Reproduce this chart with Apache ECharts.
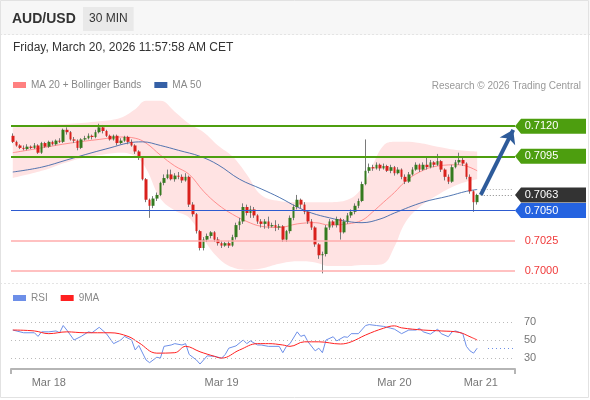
<!DOCTYPE html>
<html>
<head>
<meta charset="utf-8">
<title>AUD/USD 30 MIN</title>
<script src="https://cdn.jsdelivr.net/npm/echarts@6/dist/echarts.min.js"></script>
<style>
  html, body { margin: 0; padding: 0; background: #fff; }
  #chart { width: 590px; height: 400px; }
</style>
</head>
<body>
<div id="chart"></div>
<script>
// 30 min candles, Mar 17 19:00 -> Mar 20 11:30 CET
const opens = [
  0.7112,0.7107,0.7104,0.7102,0.7101,0.7103,0.7102,0.7104,0.7098,0.7106,
  0.7103,0.7107,0.7105,0.7108,0.7107,0.7117,0.7115,0.7109,0.7108,0.7102,
  0.7109,0.7110,0.7112,0.7111,0.7115,0.7119,0.7116,0.7112,0.7109,0.7112,
  0.7106,0.7108,0.7111,0.7107,0.7104,0.7099,0.7094,0.7076,0.7059,0.7054,
  0.7060,0.7063,0.7073,0.7077,0.7080,0.7076,0.7079,0.7078,0.7075,0.7078,
  0.7055,0.7047,0.7033,0.7019,0.7026,0.7029,0.7032,0.7026,0.7023,0.7021,
  0.7023,0.7021,0.7028,0.7038,0.7041,0.7053,0.7048,0.7051,0.7046,0.7041,
  0.7039,0.7041,0.7037,0.7038,0.7036,0.7037,0.7026,0.7033,0.7044,0.7053,
  0.7059,0.7055,0.7049,0.7041,0.7036,0.7022,0.7013,0.7014,0.7036,0.7041,
  0.7038,0.7043,0.7032,0.7041,0.7046,0.7049,0.7054,0.7058,0.7072,0.7083,
  0.7086,0.7085,0.7088,0.7085,0.7087,0.7083,0.7086,0.7081,0.7084,0.7078,
  0.7074,0.7080,0.7084,0.7088,0.7084,0.7088,0.7086,0.7090,0.7088,0.7091,
  0.7084,0.7078,0.7074,0.7086,0.7090,0.7092,0.7089,0.7078,0.7066,0.7057
];
const closes = [
  0.7107,0.7104,0.7102,0.7101,0.7103,0.7102,0.7104,0.7098,0.7106,0.7103,
  0.7107,0.7105,0.7108,0.7107,0.7117,0.7115,0.7109,0.7108,0.7102,0.7109,
  0.7110,0.7112,0.7111,0.7115,0.7119,0.7116,0.7112,0.7109,0.7112,0.7106,
  0.7108,0.7111,0.7107,0.7104,0.7099,0.7094,0.7076,0.7059,0.7054,0.7060,
  0.7063,0.7073,0.7077,0.7080,0.7076,0.7079,0.7078,0.7075,0.7078,0.7055,
  0.7047,0.7033,0.7019,0.7026,0.7029,0.7032,0.7026,0.7023,0.7021,0.7023,
  0.7021,0.7028,0.7038,0.7041,0.7053,0.7048,0.7051,0.7046,0.7041,0.7039,
  0.7041,0.7037,0.7038,0.7036,0.7037,0.7026,0.7033,0.7044,0.7053,0.7059,
  0.7055,0.7049,0.7041,0.7036,0.7022,0.7013,0.7014,0.7036,0.7041,0.7038,
  0.7043,0.7032,0.7041,0.7046,0.7049,0.7054,0.7058,0.7072,0.7083,0.7086,
  0.7085,0.7088,0.7085,0.7087,0.7083,0.7086,0.7081,0.7084,0.7078,0.7074,
  0.7080,0.7084,0.7088,0.7084,0.7088,0.7086,0.7090,0.7088,0.7091,0.7084,
  0.7078,0.7074,0.7086,0.7090,0.7092,0.7089,0.7078,0.7066,0.7057,0.7063
];
const lows = [
  0.7106,0.7103,0.7101,0.7100,0.7100,0.7101,0.7101,0.7097,0.7097,0.7102,
  0.7102,0.7104,0.7104,0.7106,0.7106,0.7113,0.7108,0.7106,0.7100,0.7101,
  0.7108,0.7109,0.7109,0.7110,0.7114,0.7114,0.7111,0.7108,0.7108,0.7104,
  0.7105,0.7107,0.7105,0.7103,0.7097,0.7092,0.7075,0.7057,0.7044,0.7052,
  0.7058,0.7062,0.7071,0.7076,0.7075,0.7074,0.7076,0.7073,0.7074,0.7053,
  0.7045,0.7031,0.7017,0.7017,0.7024,0.7027,0.7024,0.7021,0.7019,0.7020,
  0.7019,0.7020,0.7026,0.7034,0.7039,0.7046,0.7044,0.7044,0.7039,0.7036,
  0.7035,0.7035,0.7036,0.7033,0.7034,0.7024,0.7024,0.7031,0.7042,0.7051,
  0.7052,0.7047,0.7039,0.7034,0.7020,0.7010,0.6998,0.7012,0.7034,0.7036,
  0.7036,0.7026,0.7031,0.7039,0.7044,0.7047,0.7052,0.7057,0.7071,0.7081,
  0.7083,0.7084,0.7083,0.7084,0.7082,0.7081,0.7079,0.7080,0.7076,0.7072,
  0.7073,0.7079,0.7083,0.7082,0.7083,0.7084,0.7085,0.7086,0.7087,0.7082,
  0.7075,0.7072,0.7073,0.7085,0.7088,0.7087,0.7076,0.7064,0.7049,0.7055
];
const highs = [
  0.7114,0.7108,0.7105,0.7104,0.7105,0.7104,0.7106,0.7105,0.7107,0.7107,
  0.7108,0.7108,0.7109,0.7110,0.7118,0.7119,0.7116,0.7111,0.7109,0.7110,
  0.7112,0.7114,0.7113,0.7117,0.7122,0.7121,0.7117,0.7113,0.7113,0.7113,
  0.7110,0.7112,0.7112,0.7109,0.7105,0.7100,0.7095,0.7077,0.7060,0.7062,
  0.7065,0.7074,0.7080,0.7084,0.7084,0.7081,0.7082,0.7080,0.7081,0.7079,
  0.7057,0.7048,0.7034,0.7028,0.7031,0.7033,0.7033,0.7028,0.7025,0.7024,
  0.7025,0.7030,0.7040,0.7044,0.7056,0.7055,0.7054,0.7053,0.7047,0.7043,
  0.7043,0.7045,0.7040,0.7042,0.7039,0.7038,0.7034,0.7046,0.7055,0.7063,
  0.7060,0.7057,0.7050,0.7043,0.7037,0.7023,0.7016,0.7038,0.7043,0.7042,
  0.7045,0.7044,0.7043,0.7048,0.7051,0.7056,0.7060,0.7074,0.7109,0.7089,
  0.7088,0.7090,0.7089,0.7089,0.7088,0.7088,0.7087,0.7086,0.7085,0.7080,
  0.7082,0.7086,0.7090,0.7089,0.7090,0.7094,0.7092,0.7091,0.7097,0.7092,
  0.7085,0.7080,0.7088,0.7092,0.7098,0.7094,0.7090,0.7080,0.7067,0.7064
];

// day labels on the x axis: [slot index, text]
const dayLabels = [[10, 'Mar 18'], [58, 'Mar 19'], [106, 'Mar 20'], [130, 'Mar 21']];
const slotCount = 140;

// indicators, [slot index, value]
const bbUpper = [[0,0.7119],[8,0.7121],[16,0.7122],[24,0.7124],[30,0.7127],[34,0.7134],[37,0.7141],[41,0.7141],[45,0.7132],[49,0.7122],[53,0.7115],[57,0.7104],[61,0.7095],[65,0.7080],[69,0.7063],[74,0.7058],[79,0.7057],[84,0.7057],[88,0.7057],[93,0.7059],[97,0.7069],[100,0.7088],[103,0.7104],[106,0.7107],[109,0.7107],[113,0.7106],[118,0.7103],[124,0.7100],[129,0.7099]];
const bbLower = [[0,0.7077],[8,0.7083],[16,0.7091],[24,0.7096],[30,0.7098],[34,0.7095],[37,0.7085],[41,0.7060],[45,0.7050],[49,0.7044],[53,0.7026],[57,0.7011],[61,0.7003],[65,0.7001],[69,0.7002],[74,0.7006],[79,0.7008],[84,0.7007],[88,0.7004],[93,0.7004],[97,0.7005],[100,0.7005],[103,0.7006],[106,0.7020],[109,0.7040],[113,0.7053],[118,0.7063],[124,0.7072],[129,0.7076]];
const ma20 = [[0,0.7098],[8,0.7102],[16,0.7106],[24,0.7109],[30,0.7111],[34,0.7110],[37,0.7106],[41,0.7096],[45,0.7087],[49,0.7080],[53,0.7066],[57,0.7055],[61,0.7047],[65,0.7041],[69,0.7037],[74,0.7036],[79,0.7039],[84,0.7040],[88,0.7038],[93,0.7039],[97,0.7042],[100,0.7049],[103,0.7057],[106,0.7065],[109,0.7074],[113,0.7082],[118,0.7087],[124,0.7088],[129,0.7083]];
const ma50 = [[0,0.7082],[8,0.7086],[15,0.7092],[22,0.7098],[27,0.7102],[32,0.7106],[36,0.7107],[41,0.7104],[46,0.7100],[52,0.7095],[57,0.7088],[63,0.7076],[69,0.7068],[74,0.7061],[79,0.7053],[83,0.7048],[88,0.7044],[93,0.7041],[97,0.7040],[102,0.7043],[106,0.7048],[114,0.7057],[121,0.7062],[126,0.7066],[129,0.70675]];

const rsi = [[0,61],[3,58],[6,58],[7,54],[8,59],[10,59],[12,60],[13,58],[14,66],[15,61],[17,50],[19,54],[21,59],[22,58],[24,64],[26,57],[28,46],[30,50],[31,54],[33,50],[34,39],[35,44],[37,28],[38,25],[40,31],[41,30],[42,43],[44,44.5],[45,46],[47,44.5],[48,46],[49,34],[51,28],[52,23.5],[54,32.5],[56,32],[58,30],[59,34],[60,41],[62,43.5],[64,50],[65,46],[66,49],[68,44.5],[69,44.5],[71,43],[74,43],[75,36],[76,43],[77,46],[79,59],[80,54],[81,55.5],[82,48],[84,38],[85,41],[86,36],[87,50],[89,53.6],[90,49],[92,53.6],[93,53],[94,57],[96,57],[98,66],[99,67],[101,66],[103,65],[105,63],[106,62],[108,57],[110,61],[112,61],[113,63],[114,59],[116,56.5],[118,62],[119,57],[121,53.6],[122,59],[123,60],[125,57],[126,43],[127,38],[128,35.5],[129,41]];
const rsiMa = [[0,61],[6,60],[10,57],[15,59],[20,58],[27,58],[32,54],[35,47],[40,35.5],[45,36],[48,43],[52,37],[56,32],[58,30],[63,39],[68,46],[71,46],[75,44.5],[77,43],[81,48],[85,48],[91,45.6],[94,48],[98,55.5],[103,63],[106,65.6],[108,63.4],[114,61],[119,60],[124,58.4],[127,53.6],[129,50]];

// key levels
const resistances = [0.7120, 0.7095];
const pivot = 0.7050;
const supports = [0.7025, 0.7000];
const lastPrice = 0.7063;
const rsiLevels = [30, 50, 70];

const GREEN = '#4d9e0f';
const UP = '#357a1f';
const DOWN = '#d9201c';

const categories = Array.from({ length: slotCount }, (_, i) => String(i));
const catLabels = {};
dayLabels.forEach(([i, t]) => { catLabels[i] = t; });

const wickData = opens.map((o, i) => [o, closes[i], lows[i], highs[i]]);
const bodyData = opens.map((o, i) => [o, closes[i], Math.min(o, closes[i]), Math.max(o, closes[i])]);
const bandWidth = bbLower.map((p, i) => [p[0], bbUpper[i][1] - p[1]]);
const ma50Last = ma50[ma50.length - 1][1];
const rsiLast = rsi[rsi.length - 1][1];
const lastSlot = slotCount - 1;

function levelLine(v, color, width) {
  return { yAxis: v, lineStyle: { color: color, width: width, type: 'solid' } };
}
function tag(v, fill, textColor) {
  return { coord: [lastSlot, v], name: v.toFixed(4), itemStyle: { color: fill }, label: { color: textColor } };
}

const chart = echarts.init(document.getElementById('chart'));

chart.setOption({
  animation: false,
  textStyle: { fontFamily: 'Liberation Sans, Arial, sans-serif' },
  graphic: [
    { type: 'rect', shape: { x: 0, y: 0, width: 590, height: 35 }, style: { fill: '#f7f7f7' }, silent: true },
    { type: 'line', shape: { x1: 0, y1: 34.5, x2: 590, y2: 34.5 }, style: { stroke: '#e4e4e4', lineDash: [2, 2] }, silent: true },
    { type: 'line', shape: { x1: 0, y1: 283.5, x2: 590, y2: 283.5 }, style: { stroke: '#e4e4e4', lineDash: [2, 2] }, silent: true },
    { type: 'rect', shape: { x: 0.5, y: 0.5, width: 588, height: 397 }, style: { fill: null, stroke: '#e2e2e2' }, silent: true }
  ],
  title: [
    { text: 'AUD/USD', left: 12, top: 12, padding: 0, textStyle: { fontSize: 14, fontWeight: 'bold', color: '#333' } },
    { text: '30 MIN', left: 83, top: 7, padding: [6, 6], backgroundColor: '#e9e9e9', textStyle: { fontSize: 12, fontWeight: 'normal', color: '#333' } },
    { text: 'Friday, March 20, 2026 11:57:58 AM CET', left: 13, top: 42, padding: 0, textStyle: { fontSize: 12, fontWeight: 'normal', color: '#333' } },
    { text: 'Research © 2026 Trading Central', right: 9, top: 81, padding: 0, textStyle: { fontSize: 10, fontWeight: 'normal', color: '#999' } }
  ],
  legend: [
    {
      data: ['MA 20 + Bollinger Bands', 'MA 50'], left: 13, top: 80, padding: 0,
      icon: 'rect', itemWidth: 13, itemHeight: 6, itemGap: 13, selectedMode: false,
      textStyle: { fontSize: 10, color: '#888' }
    },
    {
      data: ['RSI', '9MA'], left: 13, top: 293, padding: 0,
      icon: 'rect', itemWidth: 13, itemHeight: 6, itemGap: 13, selectedMode: false,
      textStyle: { fontSize: 10, color: '#888' }
    }
  ],
  grid: [
    { left: 11, right: 75, top: 96, bottom: 117 },
    { left: 11, right: 75, top: 311, bottom: 31 }
  ],
  xAxis: [
    { type: 'category', gridIndex: 0, data: categories, boundaryGap: true, show: false },
    {
      type: 'category', gridIndex: 1, data: categories, boundaryGap: true,
      axisLine: { lineStyle: { color: '#b5b5b5', width: 2 } },
      axisTick: { show: true, length: 5, interval: (i) => i === 0, lineStyle: { color: '#b5b5b5', width: 2 } },
      axisLabel: { interval: 0, formatter: (v) => catLabels[v] || '', color: '#777', fontSize: 11, margin: 8 },
      splitLine: { show: false }
    }
  ],
  yAxis: [
    { type: 'value', gridIndex: 0, min: 0.6990, max: 0.7145, show: false },
    { type: 'value', gridIndex: 1, min: 18, max: 82, show: false }
  ],
  series: [
    {
      name: 'bbLower', type: 'line', data: bbLower, stack: 'bb', smooth: 0.4, z: 1,
      symbol: 'none', silent: true, lineStyle: { opacity: 0 }
    },
    {
      name: 'bbBand', type: 'line', data: bandWidth, stack: 'bb', smooth: 0.4, z: 1,
      symbol: 'none', silent: true, lineStyle: { opacity: 0 },
      areaStyle: { color: '#ffe3e3', opacity: 1 }
    },
    {
      name: 'MA 20 + Bollinger Bands', type: 'line', data: ma20, smooth: 0.4, color: '#ff8080', z: 2,
      symbol: 'none', silent: true, lineStyle: { width: 1, opacity: 0.85 }
    },
    {
      name: 'MA 50', type: 'line', data: ma50, smooth: 0.4, color: '#3560a6', z: 2,
      symbol: 'none', silent: true, lineStyle: { width: 1, opacity: 0.85 }
    },
    {
      name: 'wicks', type: 'candlestick', data: wickData, barWidth: 1, silent: true, z: 3,
      itemStyle: { color: '#7a7a7a', color0: '#7a7a7a', borderColor: '#7a7a7a', borderColor0: '#7a7a7a', borderWidth: 1 }
    },
    {
      name: 'AUD/USD', type: 'candlestick', data: bodyData, barWidth: 3, silent: true, z: 4,
      itemStyle: { color: UP, color0: DOWN, borderColor: UP, borderColor0: DOWN, borderWidth: 0 },
      markLine: {
        silent: true, symbol: 'none', precision: 5, label: { show: false },
        data: [
          levelLine(resistances[0], GREEN, 2),
          levelLine(resistances[1], GREEN, 2),
          levelLine(pivot, '#2d5bd0', 1),
          levelLine(supports[0], '#ffadad', 1.5),
          levelLine(supports[1], '#ffadad', 1.5),
          [{ coord: [130, lastPrice], lineStyle: { color: '#888', type: [1, 2], width: 1 } }, { coord: [lastSlot, lastPrice] }],
          [{ coord: [130, ma50Last], lineStyle: { color: '#aaa', type: [1, 2], width: 1 } }, { coord: [lastSlot, ma50Last] }],
          [{ coord: [130, lastPrice], lineStyle: { color: '#2e5b9a', width: 4, type: 'solid' } },
           { coord: [138.5, 0.7117], symbol: 'arrow', symbolSize: 13 }]
        ]
      },
      markPoint: {
        silent: true,
        symbol: 'path://M0,7.5L6,0L71,0L71,15L6,15Z',
        symbolSize: [71, 15],
        symbolOffset: [37.3, 0],
        itemStyle: { borderWidth: 0 },
        label: { show: true, position: 'inside', formatter: '{b}', fontSize: 11, offset: [-9, 0] },
        data: [
          tag(resistances[0], GREEN, '#fff'),
          tag(resistances[1], GREEN, '#fff'),
          tag(lastPrice, '#333333', '#fff'),
          tag(pivot, '#2563e0', '#fff'),
          tag(supports[0], 'rgba(0,0,0,0)', '#f03a3a'),
          tag(supports[1], 'rgba(0,0,0,0)', '#f03a3a')
        ]
      }
    },
    {
      name: 'RSI', type: 'line', xAxisIndex: 1, yAxisIndex: 1, data: rsi, color: '#6d8fe8',
      symbol: 'none', silent: true, lineStyle: { width: 1 },
      markLine: {
        silent: true, symbol: 'none',
        lineStyle: { color: '#bbb', type: [1, 3], width: 1 },
        label: { show: true, position: 'end', formatter: '{c}', color: '#777', fontSize: 11, distance: 9 },
        data: rsiLevels.map((v) => ({ yAxis: v })).concat([
          [{ coord: [132, rsiLast], lineStyle: { color: '#6d8fe8', type: [1, 3], width: 1 }, label: { show: false } },
           { coord: [lastSlot, rsiLast] }]
        ])
      }
    },
    {
      name: '9MA', type: 'line', xAxisIndex: 1, yAxisIndex: 1, data: rsiMa, color: '#ff2020',
      smooth: 0.4, symbol: 'none', silent: true, lineStyle: { width: 1 }
    }
  ]
});
</script>
</body>
</html>
